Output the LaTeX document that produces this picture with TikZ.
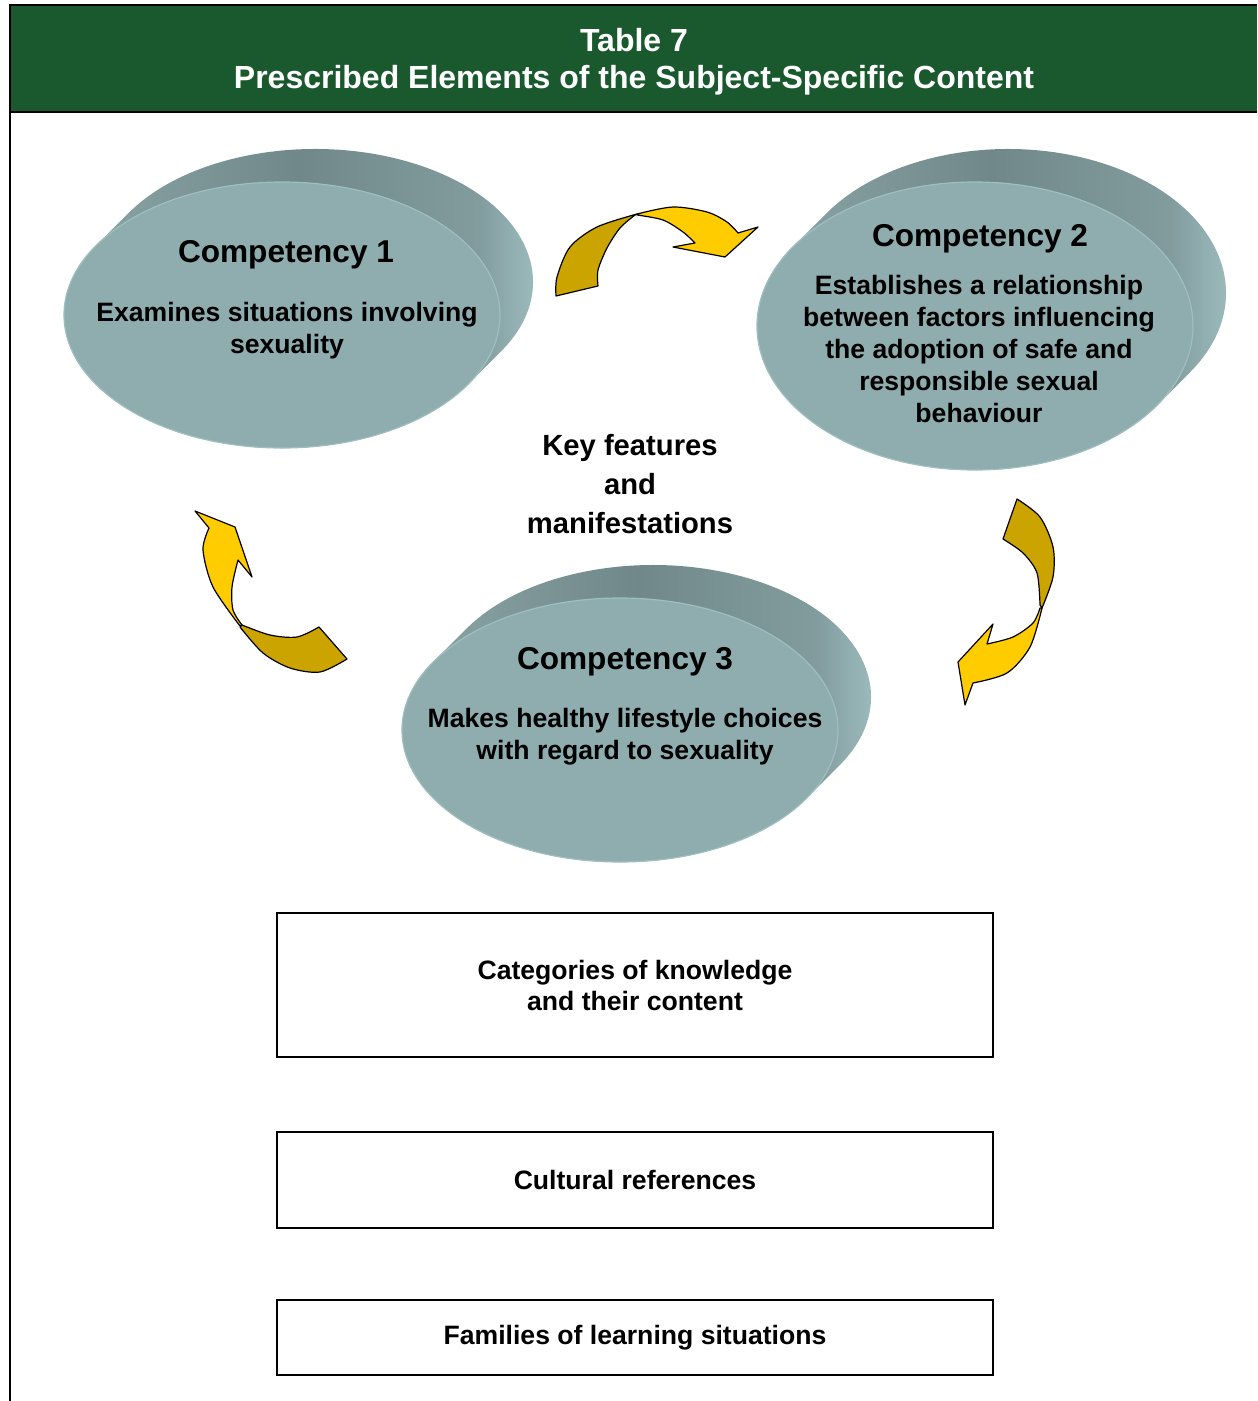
\documentclass[tikz,border=0pt]{standalone}
\usepackage{fontspec}
\setmainfont{Liberation Sans}
\usetikzlibrary{shapes.geometric,positioning,calc}
\definecolor{headgreen}{RGB}{25,89,45}
\definecolor{discface}{RGB}{143,173,175}
\definecolor{discrim}{RGB}{158,190,192}
\definecolor{sideleft}{RGB}{138,163,165}
\definecolor{sidedark}{RGB}{112,136,138}
\definecolor{sidemid}{RGB}{130,156,158}
\definecolor{sidelight}{RGB}{168,202,204}
\definecolor{arrowgold}{RGB}{255,204,0}
\definecolor{arrowshade}{RGB}{204,164,0}
\pgfdeclarehorizontalshading{discside}{100bp}{color(0bp)=(sideleft); color(30bp)=(sideleft);
  color(50bp)=(sidedark); color(67bp)=(sidemid); color(75bp)=(sidelight); color(100bp)=(sidelight)}
\tikzset{
  disc/.style      = {ellipse,fill=discface,draw=discrim,line width=0.6pt,
                      minimum width=218pt,inner sep=0pt},
  disctitle/.style = {font=\fontsize{15.8}{19}\selectfont\bfseries},
  disctext/.style  = {font=\fontsize{13.3}{16}\selectfont\bfseries,align=center},
  elembox/.style   = {draw,line width=1pt,minimum width=358pt,align=center,
                      font=\fontsize{13.3}{15.5}\selectfont\bfseries},
  bandfront/.style = {fill=arrowgold,draw=black,line width=0.6pt,line join=round},
  bandback/.style  = {fill=arrowshade,draw=black,line width=0.6pt,line join=round},
}
% extruded disc: shaded side band first, then the face on top
\newcommand{\compdisc}[4]{% name, centre x, centre y, y radius
  \pgfmathsetmacro{\tang}{atan(#4/218)}
  \shade[shading=discside]
    ($(#2,#3)+(180+\tang:218 and #4)$)
    arc[start angle=180+\tang,end angle=\tang,x radius=218,y radius=#4]
    -- ++(33,-33)
    arc[start angle=\tang,end angle=\tang-180,x radius=218,y radius=#4]
    -- cycle;
  \node[disc,minimum height=#4pt] (#1) at (#2,#3) {};
}

\begin{document}
\begin{tikzpicture}[x=0.5pt,y=-0.5pt]
  \useasboundingbox (0,0) rectangle (1257,1401);

  % header bar and frame
  \fill[headgreen] (10,5) rectangle (1257,112);
  \draw[line width=1pt] (1257,5) -- (10,5) -- (10,1401);
  \draw[line width=1pt] (10,112) -- (1257,112);
  \node[text=white,align=center,font=\fontsize{16}{18.5}\selectfont\bfseries] (title)
    at (634,62) {Table 7\\Prescribed Elements of the Subject-Specific Content};

  % the three competencies
  \compdisc{c1}{282}{315}{133}
  \compdisc{c2}{975}{326}{144}
  \compdisc{c3}{620}{730}{132}

  \node[disctitle] (c1title) at (286,255) {Competency 1};
  \node[disctext] (c1text) at (287,331) {Examines situations involving\\sexuality};
  \node[disctitle] (c2title) at (980,239) {Competency 2};
  \node[disctext] (c2text) at (979,349) {Establishes a relationship\\between factors influencing\\the adoption of safe and\\responsible sexual\\behaviour};
  \node[disctitle] (c3title) at (625,662) {Competency 3};
  \node[disctext] (c3text) at (625,737) {Makes healthy lifestyle choices\\with regard to sexuality};

  \node[align=center,font=\fontsize{14.6}{19.5}\selectfont\bfseries] (keyfeat)
    at (630,484) {Key features\\and\\manifestations};

  % twisted arrows between the competencies
  \filldraw[bandback] plot[smooth] coordinates {(556,296) (557,277) (570,247) (597,227) (637,214)}
    -- plot[smooth] coordinates {(635,215) (620,228) (607,248) (598,270) (598,286)} -- cycle;
  \filldraw[bandfront] plot[smooth] coordinates {(637,214) (673,207) (707,212) (727,222) (738,233)}
    -- (758,227) -- (725,257) -- (673,247)
    -- plot[smooth] coordinates {(695,243) (683,232) (663,220) (637,215)} -- cycle;

  \filldraw[bandback] plot[smooth] coordinates {(1017,499) (1040,517) (1053,547) (1053,577) (1042,608)}
    -- plot[smooth] coordinates {(1040,605) (1037,573) (1023,553) (1003,539)} -- cycle;
  \filldraw[bandfront] plot[smooth] coordinates {(1042,608) (1030,647) (1007,673) (973,683)}
    -- (965,705) -- (958,662) -- (993,624)
    -- plot[smooth] coordinates {(987,644) (1013,637) (1033,623) (1040,608)} -- cycle;

  \filldraw[bandback] plot[smooth] coordinates {(347,659) (320,672) (290,668) (263,653) (240,627)}
    -- plot[smooth] coordinates {(242,625) (270,635) (297,637) (319,627)} -- cycle;
  \filldraw[bandfront] plot[smooth] coordinates {(240,626) (213,587) (203,550) (209,528)}
    -- (195,511) -- (235,527) -- (252,577)
    -- plot[smooth] coordinates {(238,560) (232,587) (233,610) (242,625)} -- cycle;

  % content boxes
  \node[elembox,minimum height=72pt] (catbox) at (635,985) {Categories of knowledge\\and their content};
  \node[elembox,minimum height=48pt,below=36.5pt of catbox] (culbox) {Cultural references};
  \node[elembox,minimum height=37.5pt,below=35pt of culbox] (fambox) {Families of learning situations};
\end{tikzpicture}
\end{document}
